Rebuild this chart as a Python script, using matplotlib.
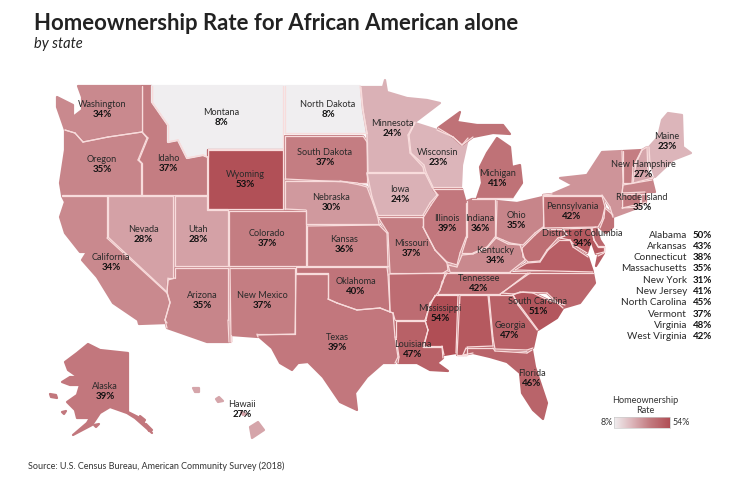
import matplotlib
matplotlib.use("Agg")
import matplotlib.pyplot as plt
import numpy as np
from matplotlib.colors import LinearSegmentedColormap, Normalize

plt.rcParams['font.family'] = ['Lato', 'DejaVu Sans']

# labelled on the map
map_states = ["Washington", "Montana", "North Dakota", "Idaho", "Oregon", "Wyoming", "South Dakota",
              "Nebraska", "Nevada", "Utah", "Colorado", "Kansas", "California", "Arizona", "New Mexico",
              "Oklahoma", "Texas", "Mississippi", "Louisiana", "Georgia", "South Carolina", "Florida",
              "Tennessee", "Alaska", "Hawaii", "Minnesota", "Wisconsin", "Iowa", "Illinois", "Indiana",
              "Ohio", "Michigan", "Missouri", "Kentucky", "Pennsylvania", "Maine", "New Hampshire",
              "Rhode Island", "District of Columbia"]
map_values = [34, 8, 8, 37, 35, 53, 37, 30, 28, 28, 37, 36, 34, 35, 37, 40, 39, 54, 47, 47, 51, 46,
              42, 39, 27, 24, 23, 24, 39, 36, 35, 41, 37, 34, 42, 23, 27, 35, 34]

# side table
table_states = ["Alabama", "Arkansas", "Connecticut", "Massachusetts", "New York", "New Jersey",
                "North Carolina", "Vermont", "Virginia", "West Virginia"]
table_values = [50, 43, 38, 35, 31, 41, 45, 37, 48, 42]

# no label in the picture, read from the colour
unlabelled_values = {"Maryland": 50, "Delaware": 45}

# rough outlines, traced in image pixels
outlines = {
    "Washington": [[(78,86),(142,86),(142,132),(108,137),(83,142),(75,133),(65,130),(57,107),(57,97),(73,105),(73,117),(82,110),(82,97)]],
    "Oregon": [[(65,130),(75,133),(83,142),(108,137),(142,132),(147,138),(138,160),(141,163),(141,195),(62,195),(60,183),(65,150)]],
    "Idaho": [[(142,86),(152,86),(152,102),(168,125),(168,142),(178,140),(187,158),(203,155),(207,157),(207,195),(142,195),(142,163),(139,160),(148,138),(142,132)]],
    "Montana": [[(152,86),(283,86),(283,149),(208,149),(208,157),(203,155),(187,158),(178,140),(168,142),(168,125),(152,102)]],
    "North Dakota": [[(285,86),(360,86),(363,110),(367,133),(285,133)]],
    "Wyoming": [[(208,150),(283,150),(283,209),(208,209)]],
    "South Dakota": [[(285,136),(363,136),(367,142),(367,183),(358,183),(347,182),(285,179)]],
    "Nebraska": [[(285,181),(340,181),(350,183),(360,185),(367,187),(373,203),(378,218),(379,224),(306,224),(306,210),(285,209)]],
    "Colorado": [[(229,211),(306,211),(306,266),(229,266)]],
    "Kansas": [[(307,226),(379,225),(387,233),(388,266),(307,266)]],
    "Utah": [[(175,196),(207,196),(207,210),(228,210),(228,266),(175,266)]],
    "Nevada": [[(108,196),(173,196),(173,278),(168,278),(167,292),(108,237)]],
    "California": [[(62,196),(107,196),(107,238),(167,293),(170,303),(165,320),(167,323),(139,324),(138,320),(113,303),(97,277),(82,260),(87,252),(80,252),(65,233),(60,217),(65,202)]],
    "Arizona": [[(175,268),(228,268),(228,320),(229,342),(207,342),(167,328),(165,320),(170,302),(167,292),(168,280),(175,278)]],
    "New Mexico": [[(230,268),(295,268),(295,334),(257,334),(258,337),(231,335),(231,342)]],
    "Texas": [[(296,274),(328,274),(328,299),(337,303),(357,310),(380,308),(393,313),(395,337),(398,357),(395,363),(383,363),(367,377),(355,393),(357,410),(340,402),(323,377),(308,362),(298,363),(292,370),(280,363),(272,348),(257,335),(295,334)]],
    "Oklahoma": [[(296,267),(387,267),(388,275),(390,312),(380,308),(357,310),(337,303),(328,299),(328,273),(296,273)]],
    "Minnesota": [[(361,87),(383,87),(385,80),(387,92),(407,98),(427,100),(440,103),(415,122),(408,135),(410,153),(423,167),(424,172),(368,172),(367,133),(363,110)]],
    "Wisconsin": [[(415,123),(437,130),(453,137),(462,145),(468,138),(462,165),(461,187),(433,187),(426,172),(424,165),(411,153),(409,135)]],
    "Iowa": [[(367,173),(425,173),(432,187),(437,195),(430,203),(423,215),(378,215),(372,197)]],
    "Illinois": [[(433,189),(462,189),(466,203),(466,237),(460,253),(457,265),(447,262),(435,250),(423,227),(423,218),(431,205),(438,195)]],
    "Indiana": [[(467,201),(472,199),(495,199),(495,237),(487,247),(473,253),(462,253),(467,237)]],
    "Ohio": [[(497,201),(517,203),(543,197),(543,227),(535,233),(523,245),(510,243),(503,240),(496,237)]],
    "Michigan": [[(480,167),(487,153),(497,138),(510,147),(512,167),(520,165),(522,183),(512,198),(477,198),(482,183)],
                 [(438,128),(460,112),(457,122),(477,125),(503,125),(510,134),(493,133),(483,135),(473,137),(462,145),(453,137)]],
    "Missouri": [[(378,217),(423,217),(423,227),(435,250),(447,263),(448,270),(443,273),(390,273),(388,233)]],
    "Arkansas": [[(389,274),(447,273),(442,282),(440,290),(430,303),(426,320),(395,320),(393,313),(390,312)]],
    "Louisiana": [[(396,321),(425,321),(428,330),(423,347),(442,347),(443,358),(437,363),(448,371),(430,370),(417,363),(398,363),(399,357),(396,337)]],
    "Mississippi": [[(435,295),(458,295),(456,353),(444,355),(442,346),(424,346),(428,330),(425,320),(428,310)]],
    "Alabama": [[(460,295),(488,295),(493,346),(467,347),(467,355),(457,355)]],
    "Georgia": [[(489,295),(513,295),(518,305),(537,330),(533,348),(527,350),(495,349),(493,338)]],
    "Florida": [[(466,348),(493,348),(495,351),(527,353),(532,350),(535,367),(547,403),(543,419),(533,410),(522,393),(520,373),(507,362),(490,357),(473,353),(463,355)]],
    "South Carolina": [[(513,295),(520,292),(533,293),(548,300),(565,305),(557,318),(538,330),(518,303)]],
    "North Carolina": [[(502,293),(528,273),(593,273),(595,283),(580,303),(563,308),(547,293),(523,292),(513,294)]],
    "Tennessee": [[(445,273),(530,273),(503,292),(500,294),(438,294),(443,282)]],
    "Kentucky": [[(462,255),(473,254),(487,248),(496,238),(508,244),(520,245),(525,260),(510,272),(450,272),(448,265),(457,267)]],
    "Virginia": [[(515,270),(527,263),(540,262),(548,250),(560,240),(570,240),(573,247),(588,257),(593,272)],
                 [(598,256),(604,253),(596,266)]],
    "West Virginia": [[(522,248),(535,235),(543,228),(545,229),(563,229),(567,235),(558,238),(547,250),(540,261),(528,262),(523,257)]],
    "Pennsylvania": [[(543,196),(602,196),(605,207),(602,220),(598,227),(544,228)]],
    "Maryland": [[(563,229),(591,228),(594,240),(598,247),(604,247),(604,252),(596,254),(591,240),(587,253),(574,245),(570,240),(560,238),(567,235)]],
    "Delaware": [[(592,228),(596,227),(600,240),(604,246),(598,246),(594,240)]],
    "New Jersey": [[(605,208),(613,215),(613,227),(606,233),(600,228),(604,218)]],
    "New York": [[(543,195),(552,194),(573,185),(560,178),(587,175),(602,152),(622,151),(623,183),(622,195),(622,208),(640,207),(613,217),(610,207),(602,195)]],
    "Vermont": [[(623,151),(642,150),(633,167),(632,183),(623,183)]],
    "New Hampshire": [[(647,147),(648,173),(653,178),(633,183),(636,163),(642,150)]],
    "Maine": [[(649,147),(658,137),(662,120),(668,113),(682,115),(683,147),(691,153),(673,160),(655,177),(650,163)]],
    "Massachusetts": [[(623,185),(652,180),(655,192),(645,192),(622,193)]],
    "Connecticut": [[(622,195),(640,194),(640,204),(622,208)]],
    "Rhode Island": [[(641,194),(646,194),(646,202),(641,204)]],
    "Alaska": [[(88,344),(100,350),(128,353),(128,412),(140,418),(152,433),(135,418),(127,413),(110,407),(100,413),(92,425),(73,435),(87,423),(90,418),(77,418),(75,410),(67,402),(77,395),(80,385),(70,385),(62,382),(70,377),(78,377),(68,370),(65,362),(77,353)],
               [(50,394),(56,395),(57,398),(51,397)], [(62,412),(66,411),(64,414)], [(94,425),(99,424),(96,427)],
               [(140,416),(145,420),(143,423)], [(146,424),(152,430),(149,431)]],
    "Hawaii": [[(250,427),(258,422),(264,430),(252,438)],
               [(216,399),(219,397),(223,401),(218,402)],
               [(193,388),(199,388),(199,392),(195,392)],
               [(241,412),(246,414),(243,415)]],
}

label_pos = {
    "Washington": (102,104), "Montana": (221,112), "North Dakota": (328,104), "Idaho": (168,158),
    "Oregon": (102,159), "Wyoming": (245,174), "South Dakota": (325,152), "Nebraska": (331,197),
    "Nevada": (143,229), "Utah": (198,229), "Colorado": (267,233), "Kansas": (344,239),
    "California": (111,257), "Arizona": (202,295), "New Mexico": (262,295), "Oklahoma": (356,281),
    "Texas": (337,337), "Mississippi": (440,308), "Louisiana": (413,344), "Georgia": (510,325),
    "South Carolina": (538,301), "Florida": (532,373), "Tennessee": (479,278), "Alaska": (105,386),
    "Hawaii": (242,404), "Minnesota": (392,123), "Wisconsin": (438,152), "Iowa": (400,189),
    "Illinois": (447,218), "Indiana": (480,218), "Ohio": (516,215), "Michigan": (498,173),
    "Missouri": (411,243), "Kentucky": (495,250), "Pennsylvania": (572,206), "Maine": (667,136),
    "New Hampshire": (643,164), "Rhode Island": (642,197), "District of Columbia": (582,233),
}

low, high = 8, 54
cmap = LinearSegmentedColormap.from_list(
    "rate", [(0, "#f0eef0"), (0.33, "#dcb4b9"), (0.63, "#c47d82"), (1, "#b04e55")])
norm = Normalize(low, high)
border = "#f8dcdc"
dark = "#2a2a2a"

values = dict(zip(map_states, map_values))
values.update(zip(table_states, table_values))
values.update(unlabelled_values)


def dist_to_state(point, parts):
    # smallest distance from a point to the edges of a state
    best = 1e9
    for part in parts:
        pts = np.array(part + part[:1], dtype=float)
        a, b = pts[:-1], pts[1:]
        t = np.clip(((point - a) * (b - a)).sum(1) / ((b - a) ** 2).sum(1), 0, 1)
        near = a + (b - a) * t[:, None]
        best = min(best, np.hypot(*(point - near).T).min())
    return best


fig = plt.figure(figsize=(7.48, 4.86), dpi=100)
ax = fig.add_axes([0, 0, 1, 1])

# fill first, with own colour on the edge so small tracing gaps close up
for state, parts in outlines.items():
    color = cmap(norm(values[state]))
    for part in parts:
        xs, ys = zip(*part)
        ax.fill(xs, ys, facecolor=color, edgecolor=color, lw=1.6, joinstyle="round", zorder=1)

# borders only where a neighbour is close, the coasts stay without a line
for state, parts in outlines.items():
    others = [p for s, p in outlines.items() if s != state]
    for part in parts:
        closed = part + part[:1]
        for p, q in zip(closed[:-1], closed[1:]):
            mid = (np.array(p, dtype=float) + np.array(q, dtype=float)) / 2
            if min(dist_to_state(mid, o) for o in others) < 4:
                ax.plot([p[0], q[0]], [p[1], q[1]], color=border, lw=0.9, solid_capstyle="round", zorder=2)

for state, value in zip(map_states, map_values):
    x, y = label_pos[state]
    ax.text(x, y, state, ha="center", va="center", fontsize=6.6, color=dark, zorder=4)
    ax.text(x, y + 10.5, f"{value}%", ha="center", va="center", fontsize=7, fontweight="bold",
            color="#111111", zorder=4)

# side table
for i, (state, value) in enumerate(zip(table_states, table_values)):
    y = 235 + i * 11.3
    ax.text(687, y, state, ha="right", va="center", fontsize=7.2, color=dark)
    ax.text(693, y, f"{value}%", ha="left", va="center", fontsize=7, fontweight="bold", color="#111111")

ax.text(34, 23, "Homeownership Rate for African American alone", fontsize=15.9, fontweight="bold",
        va="center", color="#222222")
ax.text(34, 44, "by state", fontsize=10.5, style="italic", va="center", color="#222222")
ax.text(28, 466, "Source: U.S. Census Bureau, American Community Survey (2018)", fontsize=6.5,
        va="center", color="#333333")

# legend
ax.text(645, 400, "Homeownership", ha="center", va="center", fontsize=6.6, color="#333333")
ax.text(645, 410, "Rate", ha="center", va="center", fontsize=6.6, color="#333333")
gradient = np.linspace(0, 1, 256).reshape(1, -1)
ax.imshow(gradient, cmap=cmap, extent=(614, 670, 428, 417), aspect="auto", zorder=2)
ax.plot([614, 670, 670, 614, 614], [417, 417, 428, 428, 417], color="#cccccc", lw=0.5, zorder=3)
ax.text(607, 422, f"{low}%", ha="center", va="center", fontsize=6.4, color="#333333")
ax.text(681, 422, f"{high}%", ha="center", va="center", fontsize=6.4, color="#333333")

ax.set_xlim(0, 748)
ax.set_ylim(486, 0)
ax.axis("off")

fig.savefig("out.png", dpi=100)
